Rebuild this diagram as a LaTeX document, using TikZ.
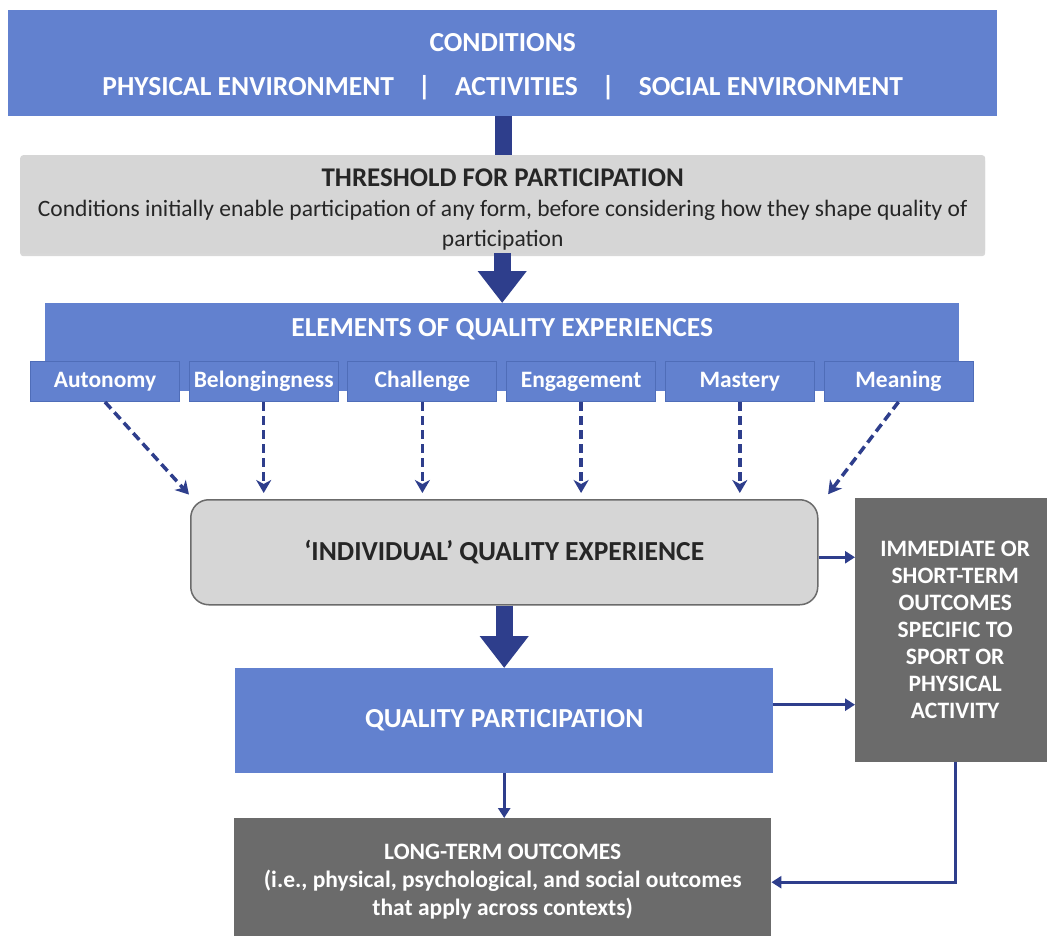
\documentclass[tikz,border=0pt]{standalone}
\usepackage{fontspec}
\setmainfont{Carlito}
\usetikzlibrary{arrows.meta,shadows,positioning}
\definecolor{qblue}{HTML}{6281CF}
\definecolor{qedge}{HTML}{4F6DB8}
\definecolor{qnavy}{HTML}{2E3E8C}
\definecolor{qdark}{HTML}{6B6B6B}
\definecolor{qlight}{HTML}{D6D6D6}
\definecolor{qtext}{HTML}{262626}
\tikzset{
    bluebox/.style={fill=qblue, text=white, anchor=north west, inner sep=0pt},
    subbox/.style={bluebox, draw=qedge, line width=1pt, minimum width=149pt, minimum height=40pt,
        font=\bfseries\fontsize{23.5}{26}\selectfont},
    greybox/.style={fill=qdark, text=white, anchor=north west, inner sep=0pt, align=center},
    headtext/.style={text=white, font=\bfseries\fontsize{27.5}{30}\selectfont, inner sep=0pt},
    bigarrow/.style={qnavy, line width=17pt, -{Triangle[width=47pt,length=32pt]}},
    thinarrow/.style={qnavy, line width=3pt, -{Triangle[width=12pt,length=10pt]}},
    dasharrow/.style={qnavy, line width=3.5pt, dash pattern=on 9pt off 5pt,
        -{Stealth[width=15pt,length=13pt,inset=4pt]}, shorten >=6pt}
}
\begin{document}
\begin{tikzpicture}[x=1pt,y=-1pt]
    \path[use as bounding box, fill=white] (0,0) rectangle (1047,936);
    % conditions
    \node[bluebox, minimum width=989pt, minimum height=106pt, align=center,
        font=\bfseries\fontsize{27.5}{44}\selectfont] (cond) at (8,10)
        {\rule{0pt}{26pt}CONDITIONS\\PHYSICAL ENVIRONMENT\hspace{24pt}|\hspace{24pt}ACTIVITIES\hspace{24pt}|\hspace{24pt}SOCIAL ENVIRONMENT};
    \coordinate (stemend) at (503,160);
    \draw[qnavy, line width=17pt] (cond.south -| stemend) -- (stemend);
    % threshold
    \node[fill=qlight, anchor=north west, minimum width=965pt, minimum height=95pt, rounded corners=3pt,
        drop shadow={shadow xshift=0pt, shadow yshift=-3pt, opacity=.3}, align=center, text=qtext,
        font=\fontsize{23.5}{30}\selectfont] (thresh) at (20,155)
        {\rule{0pt}{27.5pt}{\bfseries\fontsize{27}{30}\selectfont THRESHOLD FOR PARTICIPATION}\\
        Conditions initially enable participation of any form, before considering how they shape quality of\\
        participation};
    % elements
    \node[bluebox, minimum width=914pt, minimum height=88pt] (elem) at (45,303) {};
    \node[headtext, below=15pt of elem.north] (elemtitle) {ELEMENTS OF QUALITY EXPERIENCES};
    \foreach \name/\lbl [count=\i from 0] in {aut/Autonomy, bel/Belongingness, cha/Challenge,
            eng/Engagement, mas/Mastery, mea/Meaning}
        \node[subbox] (\name) at ({30+158.7*\i},361) {\lbl};
    \draw[bigarrow] (thresh.south -| elem.north) -- (elem.north);
    % individual experience
    \node[fill=qlight, draw=qdark, line width=1.5pt, rounded corners=18pt, anchor=north west,
        minimum width=627pt, minimum height=105pt, text=qtext,
        font=\bfseries\fontsize{27.5}{30}\selectfont] (indiv) at (190,499)
        {`INDIVIDUAL' QUALITY EXPERIENCE};
    \draw[dasharrow] (aut.south) -- ([xshift=3pt]indiv.north west);
    \foreach \name in {bel,cha,eng,mas}
        \draw[dasharrow] (\name.south) -- (\name.south |- indiv.north);
    \draw[dasharrow] (mea.south) -- ([xshift=6pt]indiv.north east);
    % outcomes
    \node[greybox, minimum width=200pt, minimum height=264pt,
        font=\bfseries\fontsize{23.5}{27}\selectfont] (imm) at (855,498)
        {IMMEDIATE OR\\SHORT-TERM\\OUTCOMES\\SPECIFIC TO\\SPORT OR\\PHYSICAL\\ACTIVITY};
    \node[bluebox, minimum width=538pt, minimum height=105pt,
        font=\bfseries\fontsize{27.5}{30}\selectfont] (qual) at (235,668) {QUALITY PARTICIPATION};
    \node[greybox, minimum width=537pt, minimum height=126pt,
        font=\bfseries\fontsize{23.5}{28}\selectfont] (longt) at (234,818)
        {LONG-TERM OUTCOMES\\(i.e., physical, psychological, and social outcomes\\that apply across contexts)};
    \draw[bigarrow] (indiv.south -| qual.north) -- (qual.north);
    \draw[thinarrow] ([yshift=-5pt]indiv.east) -- ([yshift=-5pt]indiv.east -| imm.west);
    \draw[thinarrow] ([yshift=16pt]qual.east) -- ([yshift=16pt]qual.east -| imm.west);
    \draw[thinarrow] (qual.south) -- (qual.south |- longt.north);
    \draw[thinarrow] (imm.south) |- ([yshift=-1pt]longt.east);
\end{tikzpicture}
\end{document}
